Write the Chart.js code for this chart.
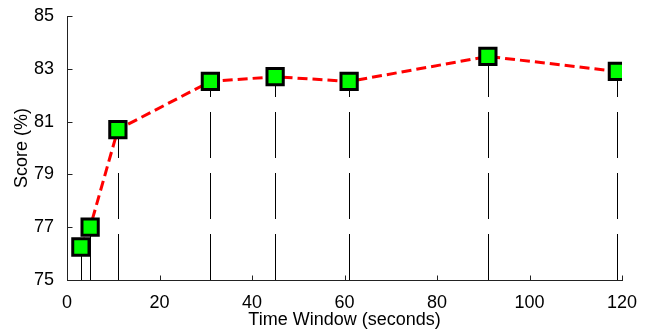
<!DOCTYPE html>
<html>
<head>
<meta charset="utf-8">
<script src="https://cdn.jsdelivr.net/npm/chart.js@4.4.0/dist/chart.umd.min.js"></script>
<style>
  html, body { margin: 0; padding: 0; background: #ffffff; }
  #wrap { width: 651px; height: 330px; }
</style>
</head>
<body>
<div id="wrap"><canvas id="chart" width="651" height="330"></canvas></div>
<script>
// time window length (seconds) and score (%)
const time_windows = [3, 5, 11, 31, 45, 61, 91, 119];
const scores = [76.25, 77.0, 80.7, 82.52, 82.7, 82.52, 83.47, 82.9];
const x_ticks = [0, 20, 40, 60, 80, 100, 120];
const y_ticks = [75, 77, 79, 81, 83, 85];

const points = time_windows.map((t, i) => ({ x: t, y: scores[i] }));

// dashed stems from the x axis up to every point
const stemLines = {
    id: 'stemLines',
    beforeDatasetsDraw(chart) {
        const {ctx, scales: {x, y}} = chart;
        const bottom = y.getPixelForValue(75);
        ctx.save();
        ctx.strokeStyle = '#000000';
        ctx.lineWidth = 1;
        ctx.setLineDash([46, 15]);
        points.forEach(p => {
            const px = Math.round(x.getPixelForValue(p.x)) + 0.5;
            ctx.beginPath();
            ctx.moveTo(px, bottom);
            ctx.lineTo(px, y.getPixelForValue(p.y));
            ctx.stroke();
        });
        ctx.restore();
    }
};

// small tick marks pointing into the plot
const innerTicks = {
    id: 'innerTicks',
    afterDatasetsDraw(chart) {
        const {ctx, scales: {x, y}} = chart;
        const bottom = Math.round(y.getPixelForValue(75)) + 0.5;
        const left = Math.round(x.getPixelForValue(0)) + 0.5;
        ctx.save();
        ctx.strokeStyle = '#222222';
        ctx.lineWidth = 1;
        x_ticks.forEach(v => {
            const px = Math.round(x.getPixelForValue(v)) + 0.5;
            ctx.beginPath();
            ctx.moveTo(px, bottom);
            ctx.lineTo(px, bottom - 5);
            ctx.stroke();
        });
        y_ticks.forEach(v => {
            const py = Math.round(y.getPixelForValue(v)) + 0.5;
            ctx.beginPath();
            ctx.moveTo(left, py);
            ctx.lineTo(left + 5, py);
            ctx.stroke();
        });
        ctx.restore();
    }
};

Chart.defaults.font.family = '"Liberation Sans", Arial, sans-serif';
Chart.defaults.color = '#000000';

new Chart(document.getElementById('chart'), {
    type: 'line',
    data: {
        datasets: [{
            data: points,
            borderColor: '#ff0000',
            borderWidth: 3,
            borderDash: [10, 5],
            pointStyle: 'rect',
            pointRadius: 11.5,
            pointHoverRadius: 11.5,
            pointBackgroundColor: '#00ff00',
            pointBorderColor: '#000000',
            pointBorderWidth: 3,
            tension: 0
        }]
    },
    options: {
        responsive: false,
        animation: false,
        layout: { padding: { left: 0, top: 16, right: 29, bottom: 0 } },
        plugins: {
            legend: { display: false },
            tooltip: { enabled: false }
        },
        scales: {
            x: {
                type: 'linear',
                min: 0,
                max: 120,
                afterBuildTicks: s => { s.ticks = x_ticks.map(v => ({ value: v })); },
                afterFit: s => { s.height = 50; },
                grid: { display: false },
                border: { display: true, color: '#222222', width: 1 },
                ticks: { font: { size: 18 }, padding: 4, maxRotation: 0 },
                title: {
                    display: true,
                    text: 'Time Window (seconds)',
                    font: { size: 18 },
                    padding: { top: 0, bottom: -1 }
                }
            },
            y: {
                type: 'linear',
                min: 75,
                max: 85,
                afterBuildTicks: s => { s.ticks = y_ticks.map(v => ({ value: v })); },
                afterFit: s => { s.width = 67; },
                grid: { display: false },
                border: { display: true, color: '#222222', width: 1 },
                ticks: { font: { size: 18 }, padding: 5 },
                title: {
                    display: true,
                    text: 'Score (%)',
                    font: { size: 18 },
                    padding: { top: 11, bottom: 0 }
                }
            }
        }
    },
    plugins: [stemLines, innerTicks]
});
</script>
</body>
</html>
